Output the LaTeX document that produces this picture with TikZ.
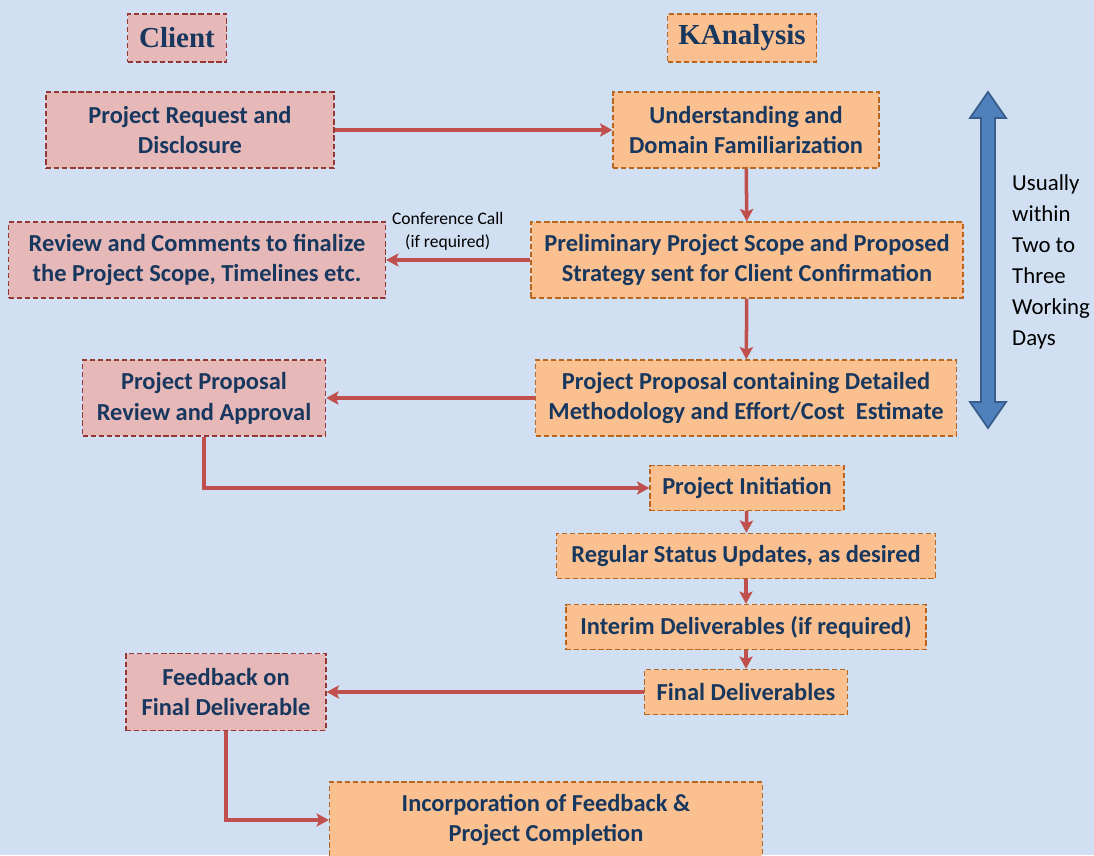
\documentclass[tikz,border=0pt]{standalone}
\usepackage{fontspec}
\setmainfont{Carlito}
\newfontfamily\headfont{Liberation Serif}
\usepackage{xcolor}
\usepackage{tikz}
\usetikzlibrary{arrows.meta}
\definecolor{bg}{HTML}{D0DFF1}
\definecolor{pinkbg}{HTML}{E6B9B8}
\definecolor{pinkline}{HTML}{953735}
\definecolor{orangebg}{HTML}{FAC090}
\definecolor{orangeline}{HTML}{B9651F}
\definecolor{navy}{HTML}{17375E}
\definecolor{flow}{HTML}{C0504D}
\definecolor{bluefill}{HTML}{4F81BD}
\definecolor{blueline}{HTML}{385D8A}
\tikzset{
  box/.style={line width=0.8pt, dash pattern=on 3pt off 1.6pt, text=navy, align=center,
    inner sep=0pt, font=\fontsize{13.9}{17.6}\selectfont\bfseries},
  client/.style={box, draw=pinkline, fill=pinkbg},
  kana/.style={box, draw=orangeline, fill=orangebg},
  head/.style={font=\headfont\fontsize{16.5}{19}\selectfont\bfseries},
  flowarr/.style={draw=flow, line width=2pt, -{Stealth[length=7pt,width=7.5pt,inset=1.5pt]}},
  note/.style={text=black, font=\fontsize{10}{13}\selectfont, align=center},
  side/.style={text=black, font=\fontsize{13}{17.6}\selectfont, align=left},
}
\begin{document}
\begin{tikzpicture}[x=0.02cm, y=-0.02cm]
  \fill[bg] (0,0) rectangle (1094,855);
  \useasboundingbox (0,0) rectangle (1094,855);
  % headers
  \node[client, head, minimum width=1.98cm, minimum height=0.96cm] (hclient) at (177,38) {Client};
  \node[kana, head, minimum width=2.98cm, minimum height=0.96cm] (hkana) at (742,38) {KAnalysis};
  % client side
  \node[client, minimum width=5.76cm, minimum height=1.52cm] (req) at (190,130) {Project Request and\\Disclosure};
  \node[client, minimum width=7.54cm, minimum height=1.52cm] (rev) at (197,260) {Review and Comments to finalize\\the Project Scope, Timelines etc.};
  \node[client, minimum width=4.86cm, minimum height=1.52cm] (prev) at (204,398) {Project Proposal\\Review and Approval};
  \node[client, minimum width=4.00cm, minimum height=1.54cm] (feed) at (226,692) {Feedback on\\Final Deliverable};
  % KAnalysis side
  \node[kana, minimum width=5.32cm, minimum height=1.52cm] (und) at (746,130) {Understanding and\\Domain Familiarization};
  \node[kana, minimum width=8.64cm, minimum height=1.52cm] (prel) at (747,260) {Preliminary Project Scope and Proposed\\Strategy sent for Client Confirmation};
  \node[kana, minimum width=8.42cm, minimum height=1.52cm] (pcont) at (746,398) {Project Proposal containing Detailed\\Methodology and Effort/Cost\ \ Estimate};
  \node[kana, minimum width=3.88cm, minimum height=0.90cm] (init) at (747,488) {Project Initiation};
  \node[kana, minimum width=7.58cm, minimum height=0.90cm] (status) at (746,556) {Regular Status Updates, as desired};
  \node[kana, minimum width=7.20cm, minimum height=0.90cm] (interim) at (746,627) {Interim Deliverables (if required)};
  \node[kana, minimum width=4.06cm, minimum height=0.90cm] (final) at (746,692) {Final Deliverables};
  \node[kana, minimum width=8.66cm, minimum height=1.52cm] (incorp) at (546,820) {Incorporation of Feedback \&\\Project Completion};
  % connectors
  \draw[flowarr] (req) -- (und);
  \draw[flowarr] (und) -- (prel);
  \draw[flowarr] (prel.west) -- node[note, above=1pt, xshift=-6pt] (call) {Conference Call\\(if required)} (rev.east);
  \draw[flowarr] (prel) -- (pcont);
  \draw[flowarr] (pcont) -- (prev);
  \draw[flowarr] (prev.south) |- (init.west);
  \draw[flowarr] (init) -- (status);
  \draw[flowarr] (status) -- (interim);
  \draw[flowarr] (interim) -- (final);
  \draw[flowarr] (final) -- (feed);
  \draw[flowarr] (feed.south) |- (incorp.west);
  % time span
  \draw[fill=bluefill, draw=blueline, line width=1pt, line join=miter]
    (988,92) -- (1006,118) -- (995,118) -- (995,402) -- (1006,402) -- (988,428)
    -- (970,402) -- (981,402) -- (981,118) -- (970,118) -- cycle;
  \node[side, anchor=west] (span) at (1006,262) {Usually\\within\\Two to\\Three\\Working\\Days};
\end{tikzpicture}
\end{document}
